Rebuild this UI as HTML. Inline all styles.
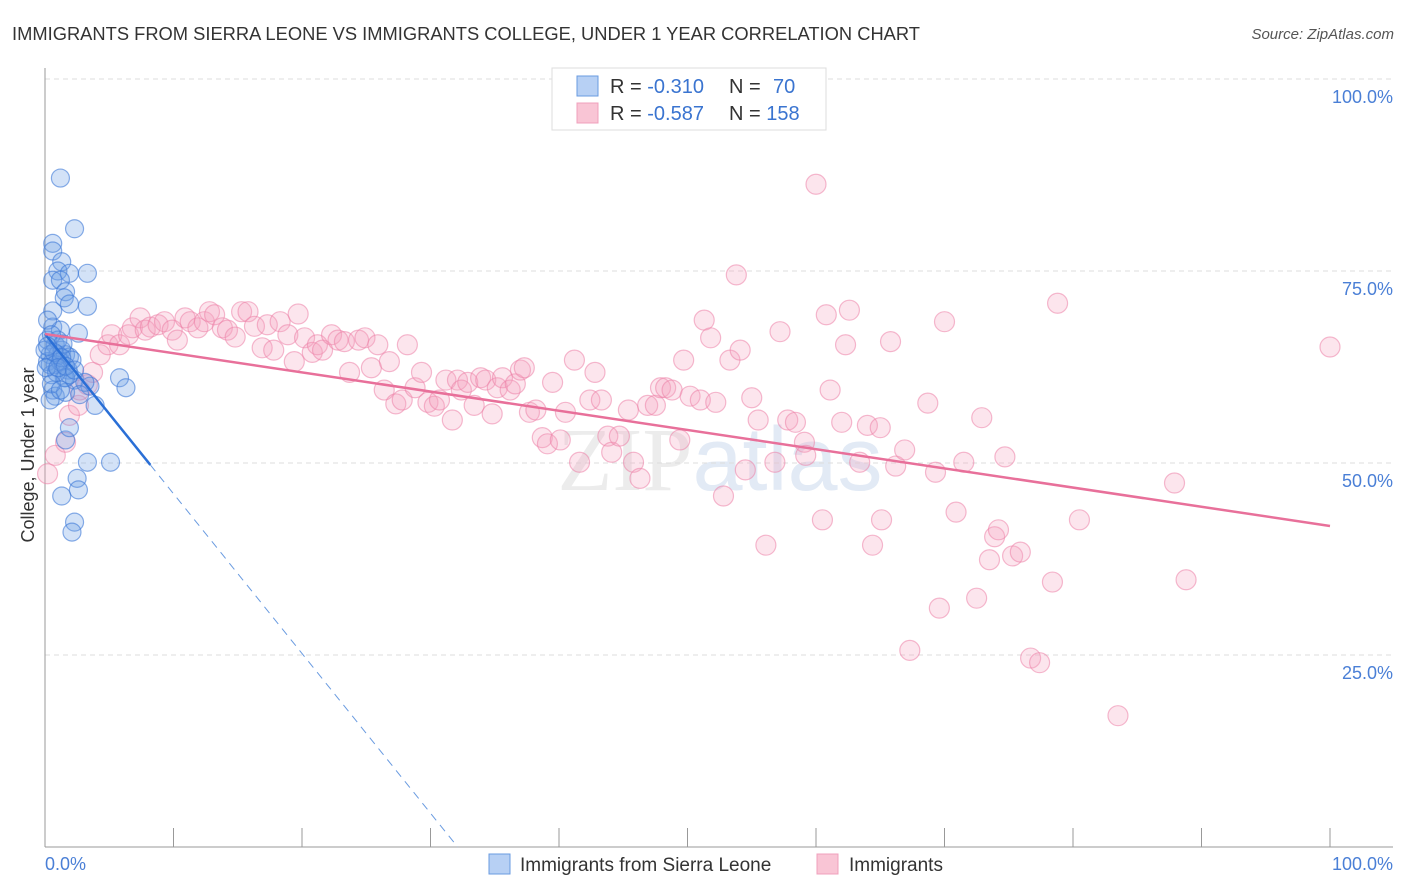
<!DOCTYPE html>
<html><head><meta charset="utf-8"><style>
body{margin:0;background:#fff;font-family:"Liberation Sans",sans-serif}
svg{display:block}
</style></head><body>
<svg id="chart" width="1406" height="892" xmlns="http://www.w3.org/2000/svg">
<text x="12" y="40" font-size="18" fill="#333" textLength="908" lengthAdjust="spacingAndGlyphs">IMMIGRANTS FROM SIERRA LEONE VS IMMIGRANTS COLLEGE, UNDER 1 YEAR CORRELATION CHART</text>
<text x="1394" y="39" font-size="15" font-style="italic" fill="#555" text-anchor="end">Source: ZipAtlas.com</text>
<text x="720" y="490" font-size="90" fill="#ececec" text-anchor="middle" font-family="Liberation Serif">ZIP<tspan fill="#e2eaf5" font-family="Liberation Sans">atlas</tspan></text>
<g id="grid"></g>
<g id="axes"></g>
<g id="pts"></g>
<g id="lines"></g>
<text transform="translate(34,455) rotate(-90)" font-size="18" fill="#333" text-anchor="middle">College, Under 1 year</text>
<text x="45" y="870" font-size="18" fill="#4a7fd6">0.0%</text>
<text x="1393" y="870" font-size="18" fill="#4a7fd6" text-anchor="end">100.0%</text>
<g>
<rect x="552" y="68" width="274" height="62" fill="#fff" stroke="#ddd"/>
<rect x="577" y="76" width="21" height="20" fill="#b7d0f4" stroke="#6a9be0"/>
<rect x="577" y="103" width="21" height="20" fill="#f9c5d5" stroke="#f0a0bc"/>
<text x="610" y="93" font-size="20" fill="#333">R = <tspan fill="#3a74d0">-0.310</tspan><tspan x="729">N = </tspan><tspan x="773" fill="#3a74d0">70</tspan></text>
<text x="610" y="120" font-size="20" fill="#333">R = <tspan fill="#3a74d0">-0.587</tspan><tspan x="729">N = </tspan><tspan fill="#3a74d0">158</tspan></text>
</g>
<g>
<rect x="489" y="854" width="21" height="20" fill="#b7d0f4" stroke="#6a9be0"/>
<text x="520" y="871" font-size="19" fill="#333">Immigrants from Sierra Leone</text>
<rect x="817" y="854" width="21" height="20" fill="#f9c5d5" stroke="#f0a0bc"/>
<text x="849" y="871" font-size="19" fill="#333">Immigrants</text>
</g>
</svg>
<script>
const yTicks=[25,50,75,100];
const yTickLabels=["25.0%","50.0%","75.0%","100.0%"];
const xTicks=[0,10,20,30,40,50,60,70,80,90,100];
const blueX=[1.2,2.3,0.6,0.6,1.3,1.0,1.9,3.3,0.6,1.2,1.6,1.5,3.3,0.6,1.9,2.6,0.6,1.2,0.2,0.8,1.3,0.4,1.0,1.6,1.9,0.2,0.8,1.8,0.5,1.5,2.3,1.9,3.5,5.8,6.3,0.6,0.8,1.6,3.9,1.6,1.9,3.3,5.1,2.5,2.6,1.3,2.3,2.1,0.4,0.0,1.0,0.2,0.5,1.2,3.1,2.1,0.9,0.1,1.4,0.4,2.7,1.6,0.7,1.3,0.2,1.0,1.6,0.5,2.3,1.2];
const blueY=[87.1,80.5,78.6,77.6,76.2,75.0,74.7,74.7,73.8,73.8,72.3,71.5,70.4,69.8,70.7,66.9,67.7,67.3,66.0,65.4,64.7,64.1,64.1,64.1,63.8,63.2,62.8,62.1,61.5,61.1,60.8,61.5,60.0,61.1,59.8,59.5,58.7,59.2,57.5,53.0,54.6,50.1,50.1,48.0,46.5,45.7,42.3,41.0,62.8,64.7,66.0,68.6,66.7,63.2,60.5,63.4,61.8,62.4,65.5,58.2,58.9,61.1,64.4,63.7,65.2,62.4,62.6,60.3,62.1,59.5];
const pinkX=[0.2,0.8,1.6,1.9,2.6,2.7,3.3,3.7,4.3,4.9,5.2,5.8,6.5,6.8,7.4,7.8,8.2,8.8,9.3,9.9,10.3,10.9,11.3,11.9,12.4,12.8,13.2,13.8,14.2,14.8,15.3,15.8,16.3,16.9,17.3,17.8,18.3,18.9,19.4,19.7,20.2,20.8,21.2,21.6,22.3,22.8,23.3,23.7,24.4,24.9,25.4,25.9,26.4,26.8,27.3,27.8,28.2,28.8,29.3,29.8,30.3,30.7,31.2,31.7,32.1,32.4,32.9,33.4,33.9,34.3,34.8,35.2,35.6,36.2,36.6,37.0,37.3,37.7,38.2,38.7,39.1,39.5,40.1,40.5,41.2,41.6,42.4,42.8,43.3,43.8,44.1,44.7,45.4,45.8,46.3,46.9,47.5,47.9,48.3,48.8,49.4,49.7,50.2,51.0,51.3,51.8,52.2,52.8,53.3,53.8,54.1,54.5,55.0,55.5,56.1,56.8,57.2,57.8,58.4,59.1,59.2,60.0,60.5,60.8,61.1,62.0,62.3,62.6,63.4,64.0,64.4,65.0,65.1,65.8,66.2,66.9,67.3,68.7,69.3,69.6,70.0,70.9,71.5,72.5,72.9,73.5,73.9,74.2,74.7,75.3,75.9,76.7,77.4,78.4,78.8,80.5,83.5,87.9,88.8,100.0];
const pinkY=[48.6,51.0,52.7,56.2,57.5,59.5,60.2,61.8,64.1,65.4,66.7,65.4,66.7,67.6,68.9,67.3,67.7,68.0,68.4,67.3,66.0,68.9,68.4,67.6,68.4,69.7,69.3,67.6,67.3,66.4,69.7,69.7,67.8,65.0,68.0,64.7,68.4,66.7,63.2,69.4,66.3,64.4,65.4,64.7,66.7,66.0,65.8,61.8,66.0,66.3,62.4,65.4,59.5,63.2,57.7,58.2,65.4,59.8,61.8,57.9,57.4,58.2,60.8,55.6,60.8,59.5,60.5,57.5,61.1,60.8,56.4,59.8,61.1,59.5,60.3,62.1,62.4,56.6,56.9,53.3,52.5,60.5,53.0,56.6,63.4,50.1,58.2,61.8,58.2,53.5,51.4,53.5,56.9,50.1,48.0,57.5,57.5,59.8,59.8,59.5,53.0,63.4,58.7,58.2,68.6,66.3,57.9,45.7,63.4,74.5,64.7,49.1,58.5,55.6,39.3,50.1,67.1,55.6,55.3,52.7,51.0,86.3,42.6,69.3,59.5,55.3,65.4,69.9,50.1,54.9,39.3,54.6,42.6,65.8,49.6,51.7,25.6,57.8,48.8,31.1,68.4,43.6,50.1,32.4,55.9,37.4,40.4,41.3,50.8,37.9,38.4,24.6,24.0,34.5,70.8,42.6,17.1,47.4,34.8,65.1];
const blueTrend=[66.8,-2.08];
const pinkTrend=[66.8,41.8];

const NS="http://www.w3.org/2000/svg";
const X0=45,X1=1330,Y0=847,Y100=79;
const sx=v=>X0+(X1-X0)*v/100;
const sy=v=>Y0-(Y0-Y100)*v/100;
function mk(tag,attrs,parent){const e=document.createElementNS(NS,tag);for(const k in attrs)e.setAttribute(k,attrs[k]);parent.appendChild(e);return e;}
const grid=document.getElementById('grid'),axes=document.getElementById('axes'),pts=document.getElementById('pts'),lines=document.getElementById('lines');
yTicks.forEach((t,i)=>{
  const l=mk('line',{x1:X0,x2:1393,y1:sy(t),y2:sy(t),stroke:'#ddd','stroke-dasharray':'5,4'},grid);
  
  
  const tx=mk('text',{x:1393,y:sy(t)+24,'font-size':18,fill:'#4a7fd6','text-anchor':'end'},grid);
  tx.textContent=yTickLabels[i];
  
  
});
let a=mk('line',{x1:X0,x2:X0,y1:68,y2:Y0,stroke:'#999'},axes);


a=mk('line',{x1:X0,x2:1393,y1:Y0,y2:Y0,stroke:'#999'},axes);


xTicks.forEach(t=>{
  const l=mk('line',{x1:sx(t),x2:sx(t),y1:Y0-19,y2:Y0,stroke:'#999'},axes);
  
  
});
function dots(xs,ys,r,fill,stroke,name){
  xs.forEach((x,i)=>{
    const c=mk('circle',{cx:sx(x),cy:sy(ys[i]),r:r,fill:fill,stroke:stroke,'stroke-width':1.2},pts);
    
    
  });
}
dots(pinkX,pinkY,10,'rgba(244,160,190,0.28)','rgba(236,130,168,0.55)','immigrants-point');
dots(blueX,blueY,9,'rgba(110,160,230,0.3)','rgba(60,120,215,0.6)','sierra-leone-point');
const bv=x=>blueTrend[0]+blueTrend[1]*x;
let l=mk('line',{x1:sx(0),y1:sy(bv(0)),x2:sx(8.2),y2:sy(bv(8.2)),stroke:'#2a6fd6','stroke-width':2.5},lines);


const xz=-blueTrend[0]/blueTrend[1];
l=mk('line',{x1:sx(8.2),y1:sy(bv(8.2)),x2:sx(xz),y2:sy(0),stroke:'#6a9be0','stroke-width':1,'stroke-dasharray':'8,6'},lines);


l=mk('line',{x1:sx(0),y1:sy(pinkTrend[0]),x2:sx(100),y2:sy(pinkTrend[1]),stroke:'#e8709a','stroke-width':2.5},lines);


</script>
</body></html>
